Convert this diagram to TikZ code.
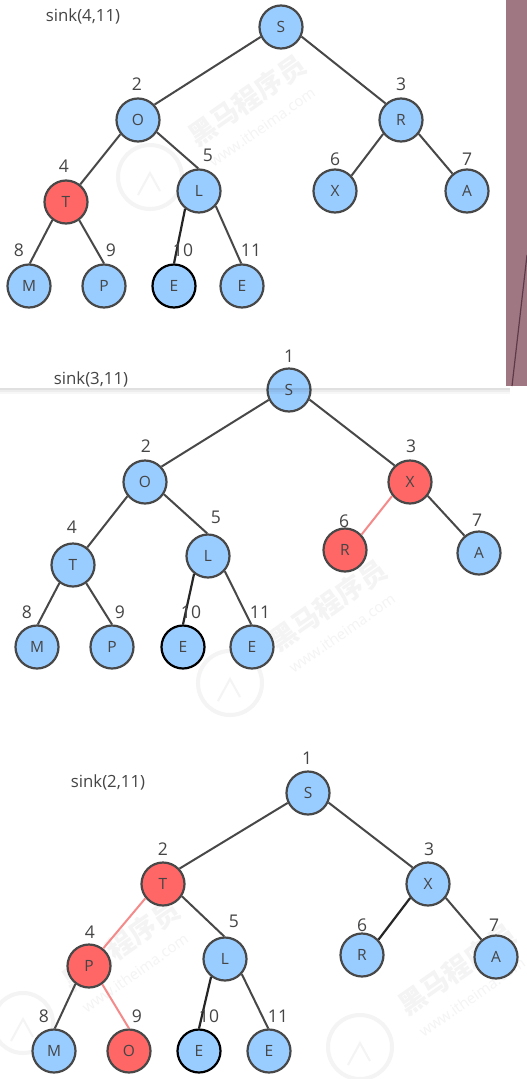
\documentclass[tikz,border=0pt]{standalone}
\usepackage{fontspec}
\setmainfont{Open Sans}
\newfontfamily\cjk{Noto Sans CJK SC}
\definecolor{nodeblue}{HTML}{99CCFF}
\definecolor{nodered}{HTML}{FF6666}
\definecolor{edgegray}{HTML}{484848}
\definecolor{txtgray}{HTML}{454545}
\definecolor{edgepink}{HTML}{F58A8A}
\definecolor{strip}{HTML}{9E7782}
\definecolor{stripdark}{HTML}{5E3A48}
\definecolor{wmark}{HTML}{F4F4F4}
\newcommand{\lnk}[5]{\draw[#1] (#2.#3) -- (#4.#5);}
\tikzset{
  x=1pt,y=-1pt,
  nd/.style={circle,draw=edgegray,line width=2.2pt,fill=nodeblue,minimum size=43pt,inner sep=0pt,text=txtgray,font=\fontsize{15.5}{17}\selectfont},
  hot/.style={nd,fill=nodered},
  darkb/.style={nd,draw=black},
  idx/.style={text=txtgray,font=\fontsize{17.5}{19}\selectfont,inner sep=0pt},
  sinkcap/.style={text=txtgray,font=\fontsize{16.8}{19}\selectfont,inner sep=0pt},
  ed/.style={draw=edgegray,line width=2pt},
  edk/.style={draw=black!85,line width=2.2pt},
  edp/.style={draw=edgepink,line width=2pt},
  wm/.style={text=wmark,rotate=35,inner sep=0pt,font=\cjk\bfseries\fontsize{27}{29}\selectfont},
  wms/.style={text=wmark,rotate=35,inner sep=0pt,font=\fontsize{15}{17}\selectfont},
  wl/.style={draw=wmark,line width=4pt,fill=none},
  wg/.style={draw=wmark,line width=2pt,fill=none},
}
\begin{document}
\begin{tikzpicture}
\useasboundingbox (0,0) rectangle (527,1079);
\fill[white] (0,0) rectangle (527,1079);
% backdrop window
\fill[strip] (506,0) rectangle (527,386);
\coordinate (sa) at (527,255);
\coordinate (sb) at (512,386);
\draw[stripdark,line width=1.2pt] (sa) -- (sb);
% watermarks
\foreach \lx/\ly/\lr in {150/177/32,230/683/32,23/1023/30,360/1047/32}{
  \draw[wl] (\lx,\ly) circle (\lr);
  \draw[wg] (\lx-12,\ly+18) -- (\lx,\ly-4) -- (\lx+10,\ly+14);
}
\node[wm] (w1) at (247,100) {黑马程序员};
\node[wms] (w1s) at (262,127) {www.itheima.com};
\node[wm] (w2) at (328,605) {黑马程序员};
\node[wms] (w2s) at (342,633) {www.itheima.com};
\node[wm] (w3) at (121,945) {黑马程序员};
\node[wms] (w3s) at (135,973) {www.itheima.com};
\node[wm] (w4) at (457,969) {黑马程序员};
\node[wms] (w4s) at (472,997) {www.itheima.com};

% tree 1
\node[sinkcap] (c1) at (83,16) {sink(4,11)};
\node[nd] (aS) at (281,27) {S};
\node[nd] (aO) at (138,120) {O};
\node[nd] (aR) at (401,120) {R};
\node[hot] (aT) at (66,202) {T};
\node[nd] (aL) at (199,191) {L};
\node[nd] (aX) at (335,191) {X};
\node[nd] (aA) at (467,191) {A};
\node[nd] (aM) at (29,286) {M};
\node[nd] (aP) at (104,286) {P};
\node[darkb] (aE) at (174,286) {E};
\node[nd] (aF) at (242,286) {E};
\lnk{ed}{aS}{206}{aO}{43}
\lnk{ed}{aS}{335}{aR}{133}
\lnk{ed}{aO}{219}{aT}{51}
\lnk{ed}{aO}{327}{aL}{92}
\lnk{ed}{aR}{218}{aX}{43}
\lnk{ed}{aR}{322}{aA}{130}
\lnk{ed}{aT}{233}{aM}{88}
\lnk{ed}{aT}{306}{aP}{90}
\lnk{edk}{aL}{232}{aE}{90}
\lnk{ed}{aL}{318}{aF}{92}
\node[idx] (a2) at (137,84) {2};
\node[idx] (a3) at (401,84) {3};
\node[idx] (a4) at (64,166) {4};
\node[idx] (a5) at (208,155) {5};
\node[idx] (a6) at (335,159) {6};
\node[idx] (a7) at (467,159) {7};
\node[idx] (a8) at (19,250) {8};
\node[idx] (a9) at (111,250) {9};
\node[idx] (a10) at (183,250) {10};
\node[idx] (a11) at (251,250) {11};

% tree 2
\node[sinkcap] (c2) at (91,379) {sink(3,11)};
\node[nd] (bS) at (289,390) {S};
\node[nd] (bO) at (145,482) {O};
\node[hot] (bX) at (410,482) {X};
\node[nd] (bT) at (73,565) {T};
\node[nd] (bL) at (208,556) {L};
\node[hot] (bR) at (345,550) {R};
\node[nd] (bA) at (479,553) {A};
\node[nd] (bM) at (37,647) {M};
\node[nd] (bP) at (112,647) {P};
\node[darkb] (bE) at (183,647) {E};
\node[nd] (bF) at (252,647) {E};
\lnk{ed}{bS}{206}{bO}{43}
\lnk{ed}{bS}{335}{bX}{133}
\lnk{ed}{bO}{219}{bT}{51}
\lnk{ed}{bO}{327}{bL}{92}
\lnk{edp}{bX}{218}{bR}{43}
\lnk{ed}{bX}{322}{bA}{130}
\lnk{ed}{bT}{233}{bM}{88}
\lnk{ed}{bT}{306}{bP}{90}
\lnk{edk}{bL}{232}{bE}{90}
\lnk{ed}{bL}{318}{bF}{92}
\node[idx] (b1) at (289,356) {1};
\node[idx] (b2) at (146,446) {2};
\node[idx] (b3) at (411,446) {3};
\node[idx] (b4) at (72,527) {4};
\node[idx] (b5) at (216,517) {5};
\node[idx] (b6) at (344,521) {6};
\node[idx] (b7) at (477,520) {7};
\node[idx] (b8) at (27,612) {8};
\node[idx] (b9) at (120,612) {9};
\node[idx] (b10) at (191,612) {10};
\node[idx] (b11) at (260,612) {11};
% window shadow, across the top node of this tree
\fill[black,opacity=0.12] (0,388) rectangle (510,390);
\fill[black,opacity=0.07] (0,390) rectangle (510,392);
\fill[black,opacity=0.03] (0,392) rectangle (510,394);

% tree 3
\node[sinkcap] (c3) at (108,782) {sink(2,11)};
\node[nd] (dS) at (308,793) {S};
\node[hot] (dT) at (163,884) {T};
\node[nd] (dX) at (428,884) {X};
\node[hot] (dP) at (89,966) {P};
\node[nd] (dL) at (225,959) {L};
\node[nd] (dR) at (362,955) {R};
\node[nd] (dA) at (496,957) {A};
\node[nd] (dM) at (54,1051) {M};
\node[hot] (dO) at (129,1051) {O};
\node[darkb] (dE) at (199,1051) {E};
\node[nd] (dF) at (269,1051) {E};
\lnk{ed}{dS}{206}{dT}{43}
\lnk{ed}{dS}{335}{dX}{133}
\lnk{edp}{dT}{219}{dP}{51}
\lnk{ed}{dT}{327}{dL}{92}
\lnk{edk}{dX}{218}{dR}{43}
\lnk{ed}{dX}{322}{dA}{130}
\lnk{ed}{dP}{233}{dM}{88}
\lnk{edp}{dP}{306}{dO}{90}
\lnk{edk}{dL}{232}{dE}{90}
\lnk{ed}{dL}{318}{dF}{92}
\node[idx] (d1) at (307,758) {1};
\node[idx] (d2) at (163,849) {2};
\node[idx] (d3) at (429,849) {3};
\node[idx] (d4) at (90,932) {4};
\node[idx] (d5) at (234,921) {5};
\node[idx] (d6) at (362,925) {6};
\node[idx] (d7) at (494,925) {7};
\node[idx] (d8) at (44,1016) {8};
\node[idx] (d9) at (137,1016) {9};
\node[idx] (d10) at (209,1016) {10};
\node[idx] (d11) at (278,1016) {11};
\end{tikzpicture}
\end{document}
